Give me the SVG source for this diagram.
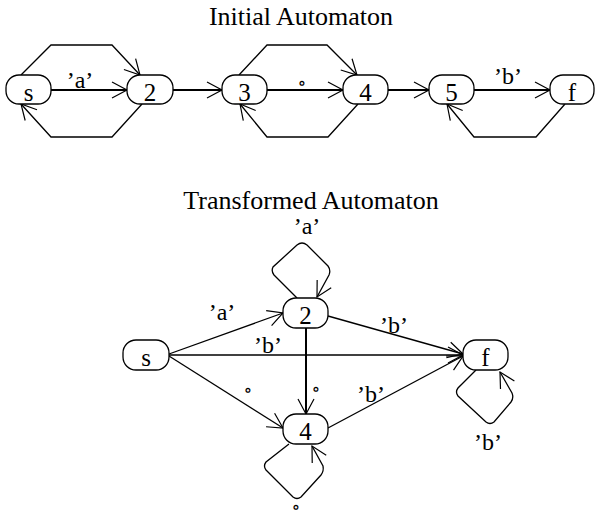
<svg xmlns="http://www.w3.org/2000/svg" width="595" height="518" viewBox="0 0 595 518">
<style>
.n{fill:#fff;stroke:#000;stroke-width:1.3}
.t{font-family:"Liberation Serif","Times New Roman","DejaVu Serif",serif;fill:#000;text-anchor:middle}
.nl{font-size:25px}
.el{font-size:24px}
.o{font-size:18px}
.ti{font-size:26px}
.e{fill:none;stroke:#000;stroke-width:1.3;marker-end:url(#a)}
.s{stroke-width:2}
</style>
<defs>
<marker id="a" markerUnits="userSpaceOnUse" markerWidth="20" markerHeight="20" refX="15" refY="8" orient="auto" overflow="visible">
<path d="M0,0 L15,8 L0,16" fill="none" stroke="#000" stroke-width="1.2"/>
</marker>
</defs>
<text class="t ti" x="301" y="25">Initial Automaton</text>
<text class="t ti" x="311" y="209">Transformed Automaton</text>
<g id="edges">
<path class="e s" d="M51,90 L127,90"/>
<path class="e s" d="M173,90 L222,90"/>
<path class="e s" d="M267,90 L343,90"/>
<path class="e s" d="M388,90 L429,90"/>
<path class="e s" d="M474,90 L550,90"/>
<path class="e" d="M21,75 L51,45 L112,45 L140,75"/>
<path class="e" d="M142,104 L112,137 L51,137 L21,104"/>
<path class="e" d="M239,75 L267,45 L327,45 L357,75"/>
<path class="e" d="M358,104 L328,137 L267,137 L240,104"/>
<path class="e" d="M565,104 L536,137 L474,137 L447,104"/>
<path class="e" d="M169,354 L283,313"/>
<path class="e" d="M169,355 L463,355"/>
<path class="e" d="M169,356 L283,428"/>
<path class="e" d="M328,316 L463,354"/>
<path class="e s" d="M306,328 L306,414"/>
<path class="e" d="M328,428 L463,356"/>
<path class="e" d="M297,298 L274,275 Q271,271 273,267 L297,245 Q302,241 307,245 L328,266 Q331,270 329,275 L317,297"/>
<path class="e" d="M289,444 L266,462 Q263,466 266,470 L293,497 Q297,500 301,497 L321,475 Q324,471 323,466 L312,446"/>
<path class="e" d="M476,370 L458,388 Q455,392 458,396 L486,422 Q490,425 494,422 L511,402 Q514,398 512,393 L500,372"/>
</g>
<g id="labels">
<text class="t el" x="80" y="88">’a’</text>
<text class="t o" x="302" y="89">∘</text>
<text class="t el" x="508" y="84">’b’</text>
<text class="t el" x="307" y="234">’a’</text>
<text class="t el" x="222" y="320">’a’</text>
<text class="t el" x="268" y="353">’b’</text>
<text class="t el" x="394" y="333">’b’</text>
<text class="t el" x="371" y="402">’b’</text>
<text class="t o" x="316" y="395">∘</text>
<text class="t o" x="248" y="396">∘</text>
<text class="t el" x="488" y="450">’b’</text>
<text class="t o" x="296" y="513">∘</text>
</g>
<g id="n-s"><rect class="n" x="6" y="75" width="45" height="29" rx="13"/><text class="t nl" x="28.5" y="101">s</text></g>
<g id="n-2"><rect class="n" x="127" y="75" width="46" height="29" rx="13"/><text class="t nl" x="150" y="101">2</text></g>
<g id="n-3"><rect class="n" x="222" y="75" width="45" height="29" rx="13"/><text class="t nl" x="244.5" y="101">3</text></g>
<g id="n-4"><rect class="n" x="343" y="75" width="45" height="29" rx="13"/><text class="t nl" x="365.5" y="101">4</text></g>
<g id="n-5"><rect class="n" x="429" y="75" width="45" height="29" rx="13"/><text class="t nl" x="451.5" y="101">5</text></g>
<g id="n-f"><rect class="n" x="550" y="75" width="44" height="29" rx="13"/><text class="t nl" x="572" y="101">f</text></g>
<g id="t-2"><rect class="n" x="283" y="298" width="45" height="30" rx="13"/><text class="t nl" x="305.5" y="324">2</text></g>
<g id="t-s"><rect class="n" x="123" y="340" width="46" height="30" rx="13"/><text class="t nl" x="146" y="366">s</text></g>
<g id="t-f"><rect class="n" x="463" y="340" width="45" height="30" rx="13"/><text class="t nl" x="485.5" y="366">f</text></g>
<g id="t-4"><rect class="n" x="283" y="414" width="45" height="30" rx="13"/><text class="t nl" x="305.5" y="440">4</text></g>
</svg>
